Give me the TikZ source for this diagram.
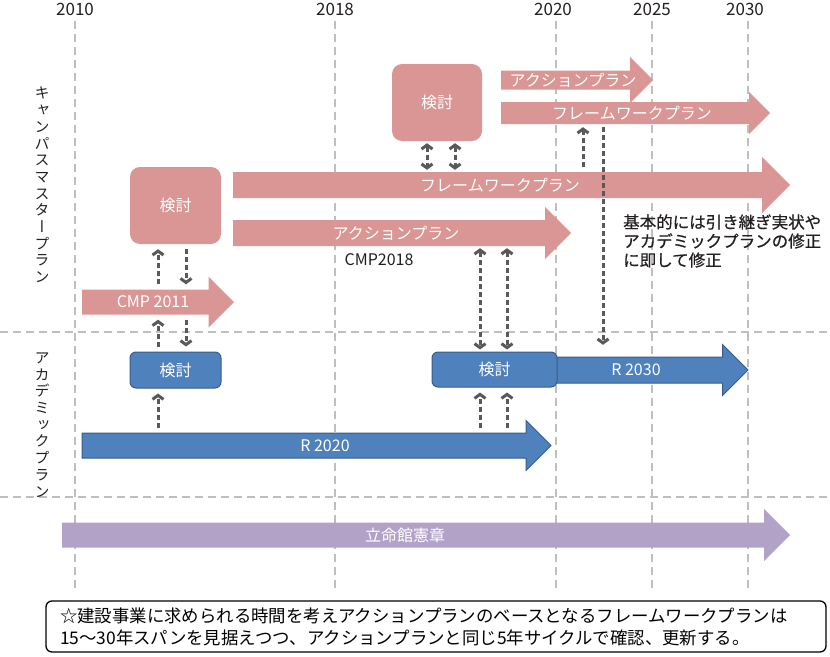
\documentclass[tikz,border=0pt]{standalone}
\usepackage{fontspec}
\setmainfont{Noto Sans CJK JP}
\newfontfamily\vertfont[RawFeature=+vert]{Noto Sans CJK JP}
\newfontfamily\notefont[FakeBold=0.6]{Noto Sans CJK JP}
\usetikzlibrary{arrows.meta}

\definecolor{camppink}{HTML}{D99694}
\definecolor{acadblue}{HTML}{4F81BD}
\definecolor{acadline}{HTML}{385D8A}
\definecolor{charterpurple}{HTML}{B3A2C7}
\definecolor{gridgray}{HTML}{BFBFBF}
\definecolor{linkgray}{HTML}{595959}
\definecolor{inkblack}{HTML}{231F20}

\begin{document}
\begin{tikzpicture}
[x=1pt,y=-1pt,
  gridLine/.style={draw=gridgray,line width=2pt,dash pattern=on 8pt off 5pt},
  yearDecorate/.style={text=inkblack,inner sep=0pt,font=\fontsize{17}{17}\selectfont},
  sideDecorate/.style={text=inkblack,inner sep=0pt,align=center,font=\vertfont\fontsize{15}{16.7}\selectfont},
  bodyDecorate/.style={inner sep=0pt,anchor=west},
  labelDecorate/.style={text=white,inner sep=0pt,font=\fontsize{16}{16}\selectfont},
  pinkBox/.style={fill=camppink,rounded corners=10pt,inner sep=0pt,text=white,font=\fontsize{16}{16}\selectfont},
  blueBox/.style={fill=acadblue,draw=acadline,line width=1pt,rounded corners=6pt,inner sep=0pt,text=white,font=\fontsize{16}{16}\selectfont},
  noteDecorate/.style={text=inkblack,inner sep=0pt,align=left,font=\notefont\fontsize{16.5}{19}\selectfont},
  footDecorate/.style={draw=black,line width=1.3pt,rounded corners=6pt,inner xsep=14pt,inner ysep=0pt,
    minimum width=780pt,minimum height=51pt,text width=752pt,align=left,text=black,font=\fontsize{17.4}{22}\selectfont},
  linkDecorate/.style={draw=linkgray,line width=3pt,dash pattern=on 5pt off 3pt,
    -{Straight Barb[length=4pt,width=11pt]},shorten <=5pt,shorten >=5pt},
  linkBoth/.style={linkDecorate,{Straight Barb[length=4pt,width=11pt]}-{Straight Barb[length=4pt,width=11pt]},
    shorten <=2pt,shorten >=2pt}]
\useasboundingbox (0,0) rectangle (830,656);

%% years and grid
\foreach \yr/\x in {2010/75, 2018/335, 2020/553, 2025/652, 2030/745}
{
  \node (year\yr) at (\x,9) [yearDecorate] {\yr};
}
\foreach \x in {75,335,556,652,748}
{
  \draw[gridLine] (\x,21) -- (\x,592);
}
\draw[gridLine] (0,332) -- (830,332);
\draw[gridLine] (0,497) -- (830,497);

%% row titles
\node (campusTitle) at (42,185) [sideDecorate] {キ\\ャ\\ン\\パ\\ス\\マ\\ス\\タ\\ー\\プ\\ラ\\ン};
\node (academicTitle) at (42,425) [sideDecorate] {ア\\カ\\デ\\ミ\\ッ\\ク\\プ\\ラ\\ン};

%% block arrows
\foreach \name/\xa/\xb/\yc/\bw/\hw/\fc/\dc/\lx/\txt in {
  cmp/82/234/302/25/51/camppink/none/153/CMP 2011,
  fwMid/233/790/185/26/56/camppink/none/500/フレームワークプラン,
  apMid/233/571/233/26/52/camppink/none/396/アクションプラン,
  apTop/501/653/80/19/46/camppink/none/573/アクションプラン,
  fwTop/501/770/113/22/42/camppink/none/632/フレームワークプラン,
  rA/82/551/445.5/25/50/acadblue/acadline/325/R 2020,
  rB/556/748/370/26/51/acadblue/acadline/636/R 2030,
  charter/62/790/535/25/52/charterpurple/none/405/立命館憲章}
{
  \path[fill=\fc,draw=\dc,line width=1pt]
    (\xa,{\yc-\bw/2}) -- ({\xb-\hw/2},{\yc-\bw/2}) -- ({\xb-\hw/2},{\yc-\hw/2})
    -- (\xb,\yc) -- ({\xb-\hw/2},{\yc+\hw/2}) -- ({\xb-\hw/2},{\yc+\bw/2})
    -- (\xa,{\yc+\bw/2}) -- cycle;
  \node (\name) at (\xa,\yc) [bodyDecorate,minimum width={(\xb-\xa-\hw/2)*1pt},minimum height={\bw*1pt}] {};
  \node (\name-label) at (\lx,\yc) [labelDecorate] {\txt};
}

%% review boxes
\node (kentouA) at (175.5,205.5) [pinkBox,minimum width=91pt,minimum height=77pt] {検討};
\node (kentouB) at (437,102.5) [pinkBox,minimum width=90pt,minimum height=77pt] {検討};
\node (kentouC) at (175.5,370) [blueBox,minimum width=91pt,minimum height=36pt] {検討};
\node (kentouD) at (494.5,369.5) [blueBox,minimum width=125pt,minimum height=35pt] {検討};

\node (cmp2018) at (379,260) [text=inkblack,inner sep=0pt,font=\fontsize{16}{16}\selectfont] {CMP2018};
\node (note) at (623,241) [noteDecorate,anchor=west] {基本的には引き継ぎ実状や\\アカデミックプランの修正\\に即して修正};

%% dashed links
\path
\foreach \x/\startnode/\endnode in {158/cmp.north/kentouA.south, 186/kentouA.south/cmp.north,
  158/kentouC.north/cmp.south, 186/cmp.south/kentouC.north, 158/rA.north/kentouC.south,
  480/rA.north/kentouD.south, 507/rA.north/kentouD.south}
{
  (\startnode -| \x,0) edge[linkDecorate] (\endnode -| \x,0)
};
\path
\foreach \x/\startnode/\endnode in {427/kentouB.south/fwMid.north, 455/kentouB.south/fwMid.north,
  480/apMid.south/kentouD.north, 507/apMid.south/kentouD.north}
{
  (\startnode -| \x,0) edge[linkBoth] (\endnode -| \x,0)
};
\draw[linkDecorate,shorten >=3pt] (fwMid.north -| 583,0) -- (fwTop.south -| 583,0);
\draw[linkDecorate,shorten <=3pt,shorten >=12pt] (fwTop.south -| 603,0) -- (rB.north -| 603,0);

%% footnote
\node (footNote) at (436,626.5) [footDecorate] {☆建設事業に求められる時間を考えアクションプランのベースとなるフレームワークプランは\\15〜30年スパンを見据えつつ、アクションプランと同じ5年サイクルで確認、更新する。};
\end{tikzpicture}
\end{document}
